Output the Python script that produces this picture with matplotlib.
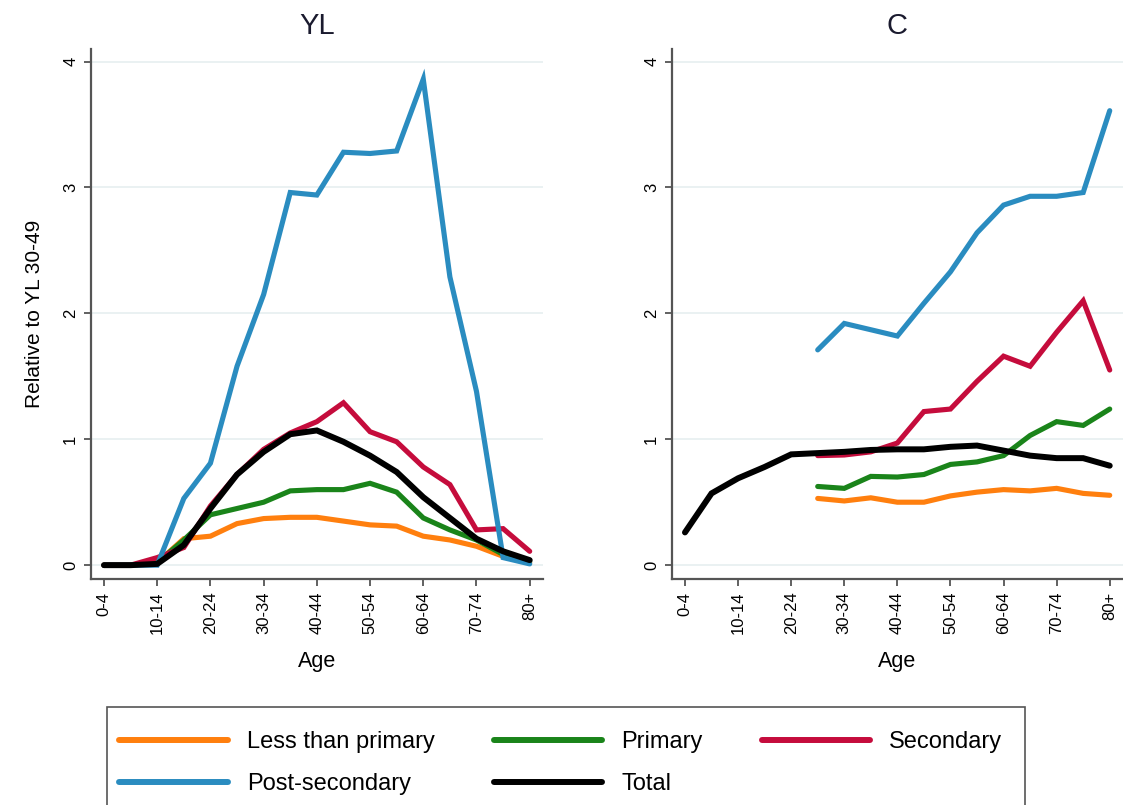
import numpy as np
import matplotlib
matplotlib.use("Agg")
import matplotlib.pyplot as plt
from matplotlib.patches import Rectangle

plt.rcParams['font.family'] = ['Liberation Sans', 'DejaVu Sans']

ages = ['0-4', '5-9', '10-14', '15-19', '20-24', '25-29', '30-34', '35-39', '40-44',
        '45-49', '50-54', '55-59', '60-64', '65-69', '70-74', '75-79', '80+']
na = np.nan

# YL panel
less_yl = [0, 0, 0.02, 0.21, 0.23, 0.33, 0.37, 0.38, 0.38, 0.35, 0.32, 0.31, 0.23, 0.20, 0.15, 0.07, 0.02]
prim_yl = [0, 0, 0.02, 0.20, 0.40, 0.45, 0.50, 0.59, 0.60, 0.60, 0.65, 0.58, 0.375, 0.28, 0.20, 0.085, 0.03]
sec_yl = [0, 0, 0.06, 0.14, 0.47, 0.72, 0.92, 1.05, 1.14, 1.29, 1.06, 0.98, 0.78, 0.64, 0.28, 0.29, 0.11]
post_yl = [0, 0, 0.0, 0.53, 0.81, 1.58, 2.15, 2.96, 2.94, 3.28, 3.27, 3.29, 3.86, 2.29, 1.38, 0.06, 0.01]
tot_yl = [0, 0, 0.01, 0.16, 0.45, 0.72, 0.90, 1.04, 1.07, 0.98, 0.87, 0.74, 0.54, 0.375, 0.21, 0.11, 0.04]

# C panel
less_c = [na, na, na, na, na, 0.53, 0.51, 0.535, 0.50, 0.50, 0.55, 0.58, 0.60, 0.59, 0.61, 0.57, 0.555]
prim_c = [na, na, na, na, na, 0.625, 0.61, 0.705, 0.70, 0.72, 0.80, 0.82, 0.87, 1.03, 1.14, 1.11, 1.24]
sec_c = [na, na, na, na, na, 0.87, 0.875, 0.90, 0.97, 1.22, 1.24, 1.46, 1.66, 1.58, 1.85, 2.10, 1.55]
post_c = [na, na, na, na, na, 1.71, 1.92, 1.87, 1.82, 2.08, 2.33, 2.64, 2.86, 2.93, 2.93, 2.96, 3.61]
tot_c = [0.26, 0.57, 0.69, 0.78, 0.88, 0.89, 0.90, 0.915, 0.92, 0.92, 0.94, 0.95, 0.91, 0.87, 0.85, 0.85, 0.79]

labels = ['Less than primary', 'Primary', 'Secondary', 'Post-secondary', 'Total']
colors = ['#ff7f0e', '#1a841a', '#c50c3c', '#2a8cc0', '#000000']

W, H = 1123, 805
fig = plt.figure(figsize=(W / 100, H / 100), dpi=100)
ax1 = fig.add_axes([90.7 / W, 1 - 579 / H, (543 - 90.7) / W, 530 / H])
ax2 = fig.add_axes([671.7 / W, 1 - 579 / H, (W - 671.7) / W, 530 / H])

x = np.arange(len(ages))
panels = [(ax1, 'YL', [less_yl, prim_yl, sec_yl, post_yl, tot_yl]),
          (ax2, 'C', [less_c, prim_c, sec_c, post_c, tot_c])]

lines = []
for ax, title, series in panels:
    lines = []
    for s, lab, col in zip(series, labels, colors):
        lw = 4.3 if lab == 'Total' else 3.7
        ln, = ax.plot(x, s, color=col, lw=lw, label=lab, solid_capstyle='round',
                      solid_joinstyle='miter')
        lines.append(ln)
    ax.set_xlim(-0.5, 16.5)
    ax.set_ylim(-0.11, 4.10)
    ax.set_yticks([0, 1, 2, 3, 4])
    ax.set_yticklabels(['0', '1', '2', '3', '4'], rotation=90, va='center')
    ax.set_xticks(x[::2])
    ax.set_xticklabels(ages[::2], rotation=90)
    ax.grid(axis='y', color='#e6eff0', lw=1.2)
    ax.set_axisbelow(True)
    for sp in ['top', 'right']:
        ax.spines[sp].set_visible(False)
    for sp in ['left', 'bottom']:
        ax.spines[sp].set_color('#555555')
        ax.spines[sp].set_linewidth(1.6)
    ax.tick_params(length=5, width=1.3, color='#555555', labelsize=12, pad=4)
    ax.set_xlabel('Age', fontsize=15.5, labelpad=12)
    ax.set_title(title, fontsize=21, pad=11, color='#1a1a2e')

ax1.set_ylabel('Relative to YL 30-49', fontsize=15, labelpad=14)

# legend (frame drawn separately)
fig.patches.append(Rectangle((107 / W, 0 - 0.01), (1025 - 107) / W, 1 - 707 / H + 0.01,
                             transform=fig.transFigure, fill=False,
                             edgecolor='#555555', lw=1.2))
order = [0, 3, 1, 4, 2]
leg = fig.legend([lines[i] for i in order], [labels[i] for i in order],
                 ncol=3, loc='upper left', bbox_to_anchor=(98 / W, 1 - 710 / H),
                 frameon=False, fontsize=17, handlelength=4.6, handletextpad=0.8,
                 columnspacing=2.5, labelspacing=0.85)
for h in leg.legend_handles:
    h.set_linewidth(4.3)

fig.savefig('out.png', dpi=100)
